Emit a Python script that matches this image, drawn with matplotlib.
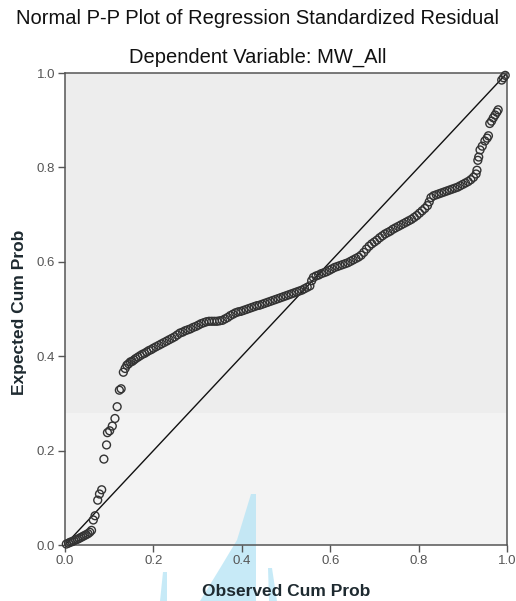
import matplotlib
matplotlib.use('Agg')
import matplotlib.pyplot as plt
from matplotlib.patches import Polygon

plt.rcParams['font.family'] = ['Liberation Sans', 'DejaVu Sans']

# observed / expected cumulative probabilities
observed = [
    0.003, 0.008, 0.012, 0.016, 0.020, 0.024, 0.028, 0.032, 0.036, 0.040,
    0.044, 0.048, 0.052, 0.056, 0.060,
    0.064, 0.068, 0.074, 0.078, 0.083, 0.088, 0.094, 0.096, 0.101, 0.107,
    0.113, 0.118, 0.123, 0.127, 0.132, 0.136, 0.140, 0.144, 0.148, 0.152,
    0.156, 0.160, 0.165, 0.170, 0.175, 0.180, 0.185, 0.190, 0.195, 0.200,
    0.206, 0.212, 0.218, 0.224, 0.230, 0.236, 0.242, 0.248, 0.254, 0.260,
    0.266, 0.272, 0.278, 0.284, 0.290, 0.296, 0.302, 0.308, 0.314, 0.320,
    0.326, 0.332, 0.338, 0.344, 0.350, 0.356, 0.362, 0.368, 0.374, 0.380,
    0.386, 0.392, 0.398, 0.404, 0.410, 0.416, 0.422, 0.428, 0.434, 0.440,
    0.446, 0.452, 0.458, 0.464, 0.470, 0.476, 0.482, 0.488, 0.494, 0.500,
    0.506, 0.512, 0.518, 0.524, 0.530, 0.536, 0.542, 0.548, 0.554,
    0.558, 0.562, 0.568, 0.574, 0.580, 0.586, 0.592, 0.598, 0.604, 0.610,
    0.616, 0.622, 0.628, 0.634, 0.640, 0.646, 0.652, 0.658, 0.664, 0.670,
    0.676, 0.682, 0.688, 0.694, 0.700, 0.706, 0.712, 0.718, 0.724, 0.730,
    0.736, 0.742, 0.748, 0.754, 0.760, 0.766, 0.772, 0.778, 0.784, 0.790,
    0.796, 0.802, 0.808, 0.814, 0.820, 0.824, 0.828, 0.834, 0.840, 0.846,
    0.852, 0.858, 0.864, 0.870, 0.876, 0.882, 0.888, 0.894, 0.900, 0.906,
    0.912, 0.918, 0.924, 0.930, 0.932,
    0.934, 0.936, 0.939, 0.944, 0.950, 0.955, 0.958, 0.961, 0.965, 0.969,
    0.973, 0.977, 0.980, 0.988, 0.992, 0.996,
]
expected = [
    0.002, 0.004, 0.006, 0.007, 0.009, 0.011, 0.012, 0.014, 0.016, 0.018,
    0.020, 0.022, 0.024, 0.027, 0.031,
    0.053, 0.062, 0.095, 0.108, 0.117, 0.182, 0.212, 0.238, 0.242, 0.252,
    0.268, 0.293, 0.328, 0.331, 0.366, 0.374, 0.381, 0.384, 0.388, 0.389,
    0.392, 0.395, 0.398, 0.401, 0.404, 0.406, 0.409, 0.412, 0.414, 0.417,
    0.420, 0.423, 0.426, 0.429, 0.432, 0.435, 0.438, 0.441, 0.445, 0.449,
    0.451, 0.454, 0.456, 0.458, 0.461, 0.463, 0.466, 0.469, 0.471, 0.473,
    0.474, 0.474, 0.474, 0.474, 0.475, 0.476, 0.479, 0.482, 0.486, 0.489,
    0.492, 0.494, 0.495, 0.497, 0.499, 0.501, 0.503, 0.505, 0.507, 0.508,
    0.510, 0.512, 0.514, 0.516, 0.518, 0.520, 0.522, 0.524, 0.526, 0.528,
    0.530, 0.532, 0.534, 0.536, 0.538, 0.540, 0.543, 0.546, 0.549,
    0.560, 0.567, 0.570, 0.572, 0.575, 0.577, 0.579, 0.582, 0.585, 0.588,
    0.590, 0.592, 0.594, 0.596, 0.598, 0.601, 0.604, 0.607, 0.610, 0.614,
    0.620, 0.627, 0.633, 0.638, 0.642, 0.646, 0.651, 0.655, 0.659, 0.662,
    0.665, 0.669, 0.672, 0.675, 0.678, 0.681, 0.684, 0.687, 0.690, 0.694,
    0.698, 0.703, 0.708, 0.713, 0.719, 0.727, 0.736, 0.740, 0.742, 0.744,
    0.746, 0.748, 0.750, 0.752, 0.754, 0.756, 0.758, 0.761, 0.764, 0.767,
    0.770, 0.774, 0.779, 0.786, 0.794,
    0.815, 0.822, 0.837, 0.845, 0.856, 0.862, 0.867, 0.893, 0.898, 0.905,
    0.911, 0.917, 0.922, 0.985, 0.990, 0.995,
]
ticks = [0.0, 0.2, 0.4, 0.6, 0.8, 1.0]
tick_labels = ['0.0', '0.2', '0.4', '0.6', '0.8', '1.0']

W, H = 516, 601
fig = plt.figure(figsize=(W / 100, H / 100), dpi=100)
ax = fig.add_axes([65 / W, 1 - 545 / H, 442 / W, 472 / H])

# SPSS-style two-tone plot background
ax.set_facecolor('#f3f3f3')
ax.axhspan(0.28, 1.0, color='#ededed', zorder=0, lw=0)

ax.plot([0, 1], [0, 1], color='#111111', lw=1.0, zorder=2)
ax.scatter(observed, expected, s=32, facecolors='none', edgecolors='#333333',
           linewidths=1.0, zorder=3, clip_on=False)

ax.set_xlim(0, 1)
ax.set_ylim(0, 1)
ax.set_xticks(ticks)
ax.set_xticklabels(tick_labels)
ax.set_yticks(ticks)
ax.set_yticklabels(tick_labels)
ax.tick_params(direction='out', length=5, width=1, color='#555555',
               labelsize=9.5, labelcolor='#555555', pad=2)
for s in ax.spines.values():
    s.set_color('#555555')
    s.set_linewidth(1.1)

# light blue screen artefact at the bottom of the picture
def px(pts):
    return [(x / W, 1 - y / H) for x, y in pts]

for shape in (
    [(251, 494), (256, 494), (256, 601), (200, 601), (222, 565), (237, 540)],
    [(163, 572), (167, 572), (167, 601), (160, 601)],
    [(268, 568), (272, 568), (277, 601), (269, 601)],
):
    ax.add_patch(Polygon(px(shape), closed=True, transform=fig.transFigure,
                         facecolor='#b5e4f5', edgecolor='none', alpha=0.75,
                         clip_on=False, zorder=0.5))

fig.text(0.5, 1 - 18 / H, 'Normal P-P Plot of Regression Standardized Residual',
         ha='center', va='center', fontsize=14.5, color='#111111')
fig.text(0.5, 1 - 57 / H, 'Dependent Variable: MW_All',
         ha='center', va='center', fontsize=14.5, color='#111111')
fig.text(286 / W, 1 - 591 / H, 'Observed Cum Prob', ha='center', va='center',
         fontsize=12.5, fontweight='bold', color='#1e2a30')
fig.text(20 / W, 1 - 312 / H, 'Expected Cum Prob', ha='center', va='center',
         rotation=90, fontsize=12.5, fontweight='bold', color='#1e2a30')

fig.savefig('out.png', dpi=100, facecolor='white')
